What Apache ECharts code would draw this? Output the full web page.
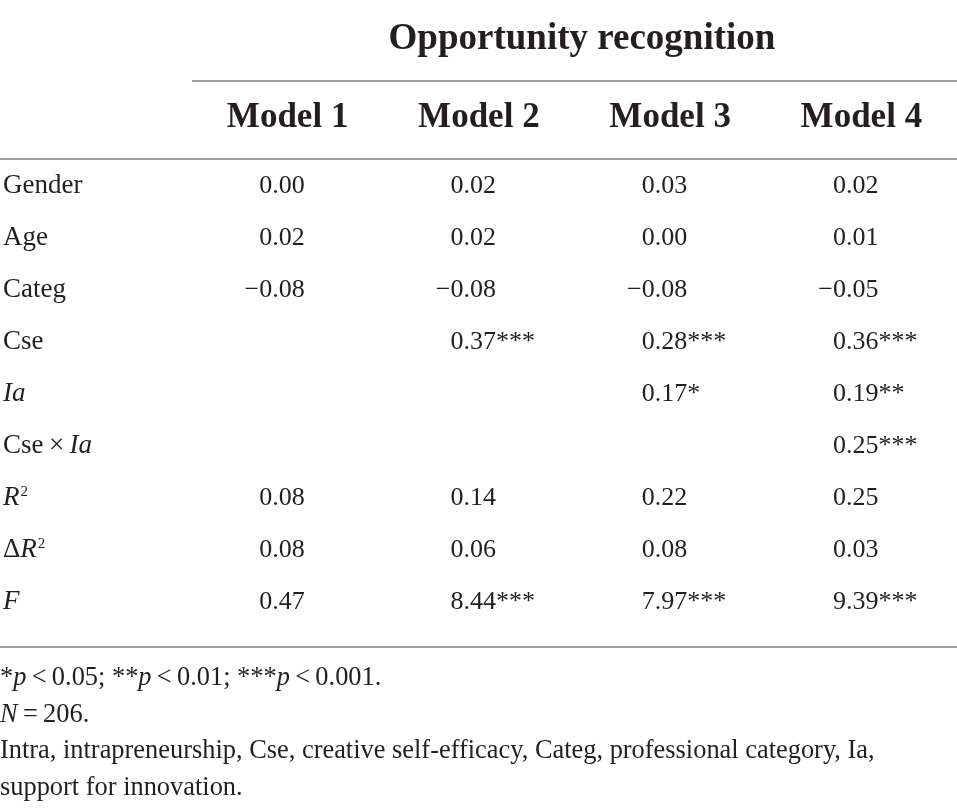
<!DOCTYPE html>
<html>
<head>
<meta charset="utf-8">
<script src="https://cdn.jsdelivr.net/npm/echarts/dist/echarts.min.js"></script>
<style>
    html, body { margin: 0; padding: 0; background: #fff; }
    #main { width: 957px; height: 812px; }
</style>
</head>
<body>
<div id="main"></div>
<script>
var titleText = 'Opportunity recognition';
var models = ['Model 1', 'Model 2', 'Model 3', 'Model 4'];
// row labels ({i|..} italic, {s|..} superscript)
var rowLabels = ['Gender', 'Age', 'Categ', 'Cse', '{i|Ia}', 'Cse\u2009\u00d7\u2009{i|Ia}', '{i|R}{s|2}', '\u0394{i|R}{s|2}', '{i|F}'];

// coefficients per model, null = empty cell
var model1 = [0.00, 0.02, -0.08, null, null, null, 0.08, 0.08, 0.47];
var model2 = [0.02, 0.02, -0.08, 0.37, null, null, 0.14, 0.06, 8.44];
var model3 = [0.03, 0.00, -0.08, 0.28, 0.17, null, 0.22, 0.08, 7.97];
var model4 = [0.02, 0.01, -0.05, 0.36, 0.19, 0.25, 0.25, 0.03, 9.39];
// significance stars
var stars1 = ['', '', '', '', '', '', '', '', ''];
var stars2 = ['', '', '', '***', '', '', '', '', '***'];
var stars3 = ['', '', '', '***', '*', '', '', '', '***'];
var stars4 = ['', '', '', '***', '**', '***', '', '', '***'];

var notes = [
    '*{i|p}\u2009<\u20090.05; **{i|p}\u2009<\u20090.01; ***{i|p}\u2009<\u20090.001.',
    '{i|N}\u2009=\u2009206.',
    'Intra, intrapreneurship, Cse, creative self-efficacy, Categ, professional category, Ia,',
    'support for innovation.'
];

var FONT = '"Liberation Serif", "Times New Roman", serif';
var INK = '#231f20';
var RULE = '#9d9d9d';

load();

function fmt(v) {
    var s = Math.abs(v).toFixed(2);
    return v < 0 ? '\u2212' + s : s;
}

function load() {
    var myChart = echarts.init(document.getElementById('main'), null, { renderer: 'canvas' });

    var values = [model1, model2, model3, model4];
    var stars = [stars1, stars2, stars3, stars4];
    // 表格单元
    var cells = [];
    for (var m = 0; m < values.length; m++) {
        for (var r = 0; r < values[m].length; r++) {
            if (values[m][r] === null) continue;
            cells.push({ value: [m, r], num: fmt(values[m][r]), star: stars[m][r] });
        }
    }

    // 注释
    var noteGraphics = [];
    var noteY = [678, 715, 751, 788];
    for (var k = 0; k < notes.length; k++) {
        noteGraphics.push({
            type: 'text',
            left: 0,
            top: noteY[k] - 13,
            style: {
                text: notes[k],
                font: '26.4px ' + FONT,
                fill: INK,
                rich: {
                    i: { fontStyle: 'italic', fontSize: 26.4, fontFamily: FONT, fill: INK }
                }
            }
        });
    }

    var option = {
        backgroundColor: '#fff',
        animation: false,
        title: {
            text: titleText,
            left: 577,
            textAlign: 'center',
            top: 16,
            textStyle: {
                fontFamily: FONT,
                fontSize: 37,
                fontWeight: 'bold',
                color: INK
            }
        },
        grid: {
            left: 186,
            top: 160,
            width: 776,
            height: 468
        },
        xAxis: {
            type: 'category',
            position: 'top',
            data: models,
            axisLine: { show: false },
            axisTick: { show: false },
            splitLine: { show: false },
            axisLabel: {
                interval: 0,
                margin: 42,
                verticalAlign: 'middle',
                fontFamily: FONT,
                fontSize: 35,
                fontWeight: 'bold',
                color: INK
            }
        },
        yAxis: {
            type: 'category',
            inverse: true,
            data: rowLabels,
            axisLine: { show: false },
            axisTick: { show: false },
            splitLine: { show: false },
            axisLabel: {
                interval: 0,
                align: 'left',
                margin: 189,
                fontFamily: FONT,
                fontSize: 27,
                color: INK,
                rich: {
                    i: { fontStyle: 'italic', fontFamily: FONT, fontSize: 27, color: INK, lineHeight: 27 },
                    s: { fontFamily: FONT, fontSize: 15, color: INK, lineHeight: 27, verticalAlign: 'top', padding: [0, 0, 0, 1] }
                }
            }
        },
        series: [
            {
                type: 'custom',
                data: cells,
                renderItem: function (params, api) {
                    var p = api.coord([api.value(0), api.value(1)]);
                    var c = cells[params.dataIndex];
                    var x = p[0] + 17;
                    return {
                        type: 'group',
                        children: [
                            {
                                type: 'text',
                                x: x, y: p[1],
                                style: { text: c.num, align: 'right', verticalAlign: 'middle', font: '26px ' + FONT, fill: INK }
                            },
                            {
                                type: 'text',
                                x: x, y: p[1],
                                style: { text: c.star, align: 'left', verticalAlign: 'middle', font: '26px ' + FONT, fill: INK }
                            }
                        ]
                    };
                }
            }
        ],
        graphic: [
            // 表格横线
            { type: 'line', shape: { x1: 192, y1: 81, x2: 957, y2: 81 }, style: { stroke: RULE, lineWidth: 2 } },
            { type: 'line', shape: { x1: 0, y1: 159, x2: 957, y2: 159 }, style: { stroke: RULE, lineWidth: 2 } },
            { type: 'line', shape: { x1: 0, y1: 647, x2: 957, y2: 647 }, style: { stroke: RULE, lineWidth: 2 } }
        ].concat(noteGraphics)
    };
    myChart.setOption(option);
}
</script>
</body>
</html>
